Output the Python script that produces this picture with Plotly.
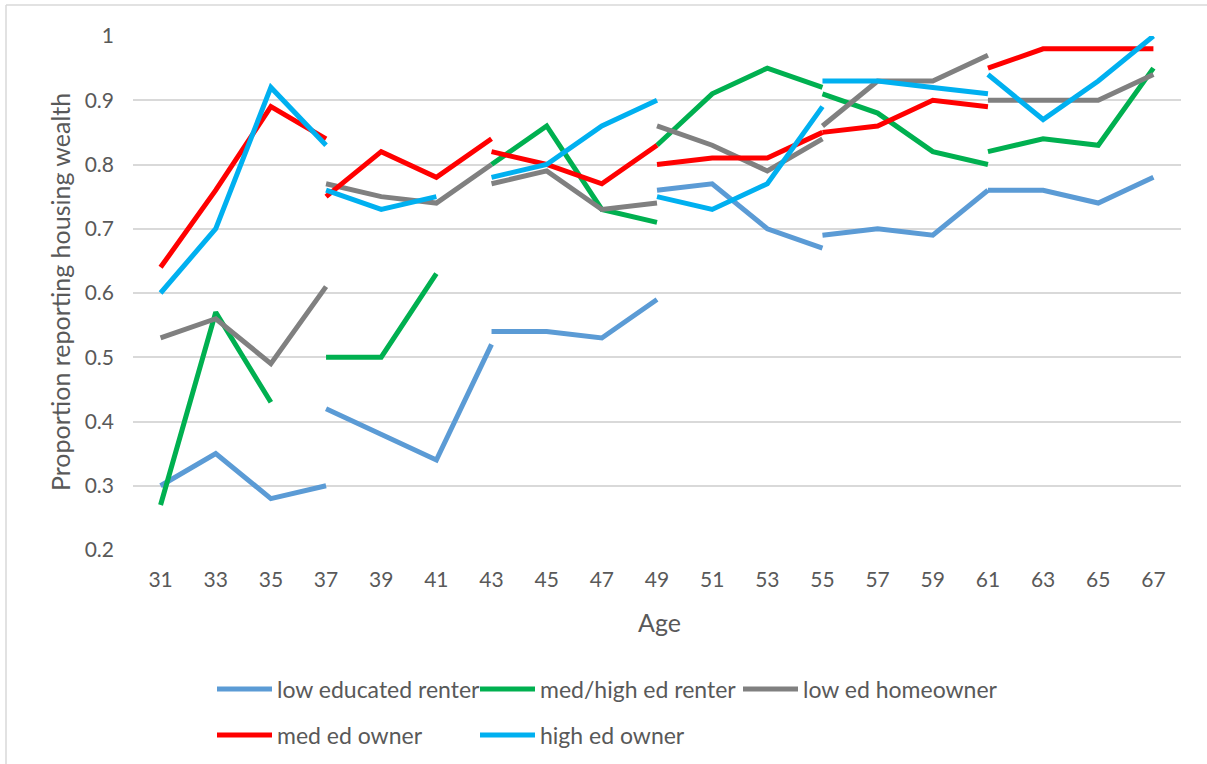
import plotly.graph_objects as go

# Ages on the x axis (category labels)
ages = [31, 33, 35, 37, 39, 41, 43, 45, 47, 49, 51, 53, 55, 57, 59, 61, 63, 65, 67]
# Each cohort is observed at 4 consecutive ages, starting at these ages
cohort_starts = [31, 37, 43, 49, 55, 61]
cohort_len = 4

series_names = ["low educated renter", "med/high ed renter", "low ed homeowner",
                "med ed owner", "high ed owner"]
series_colors = ["#5B9BD5", "#00B050", "#808080", "#FF0000", "#00B0F0"]

low_educated_renter = [
    [0.30, 0.35, 0.28, 0.30],
    [0.42, 0.38, 0.34, 0.52],
    [0.54, 0.54, 0.53, 0.59],
    [0.76, 0.77, 0.70, 0.67],
    [0.69, 0.70, 0.69, 0.76],
    [0.76, 0.76, 0.74, 0.78],
]
med_high_ed_renter = [
    [0.27, 0.57, 0.43, None],
    [0.50, 0.50, 0.63, None],
    [0.80, 0.86, 0.73, 0.71],
    [0.83, 0.91, 0.95, 0.92],
    [0.91, 0.88, 0.82, 0.80],
    [0.82, 0.84, 0.83, 0.95],
]
low_ed_homeowner = [
    [0.53, 0.56, 0.49, 0.61],
    [0.77, 0.75, 0.74, 0.80],
    [0.77, 0.79, 0.73, 0.74],
    [0.86, 0.83, 0.79, 0.84],
    [0.86, 0.93, 0.93, 0.97],
    [0.90, 0.90, 0.90, 0.94],
]
med_ed_owner = [
    [0.64, 0.76, 0.89, 0.84],
    [0.75, 0.82, 0.78, 0.84],
    [0.82, 0.80, 0.77, 0.83],
    [0.80, 0.81, 0.81, 0.85],
    [0.85, 0.86, 0.90, 0.89],
    [0.95, 0.98, 0.98, 0.98],
]
high_ed_owner = [
    [0.60, 0.70, 0.92, 0.83],
    [0.76, 0.73, 0.75, None],
    [0.78, 0.80, 0.86, 0.90],
    [0.75, 0.73, 0.77, 0.89],
    [0.93, 0.93, 0.92, 0.91],
    [0.94, 0.87, 0.93, 1.00],
]

y_ticks = [0.2, 0.3, 0.4, 0.5, 0.6, 0.7, 0.8, 0.9, 1.0]
y_tick_text = ["0.2", "0.3", "0.4", "0.5", "0.6", "0.7", "0.8", "0.9", "1"]

all_series = [low_educated_renter, med_high_ed_renter, low_ed_homeowner,
              med_ed_owner, high_ed_owner]

FONT = "Lato, Calibri, sans-serif"
TXT = "#595959"

fig = go.Figure()
for i, (name, color, data) in enumerate(zip(series_names, series_colors, all_series)):
    xs, ys = [], []
    for start, vals in zip(cohort_starts, data):
        i0 = ages.index(start)
        seg_ages = ages[i0:i0 + cohort_len]
        for a, v in zip(seg_ages, vals):
            xs.append(a)
            ys.append(v)
        xs.append(None)
        ys.append(None)
    fig.add_trace(go.Scatter(
        x=xs, y=ys, mode="lines", name=name,
        line=dict(color=color, width=5),
        connectgaps=False,
        legend="legend" if i < 3 else "legend2",
        hoverinfo="x+y+name",
    ))

W, H = 1207, 764
ml, mt = 133, 36
plot_right, plot_bottom = 1181, 550
mr, mb = W - plot_right, H - plot_bottom
pw = plot_right - ml
ph = plot_bottom - mt

def fx(p):  # page px -> paper x
    return (p - ml) / pw

def fy(p):  # page px -> paper y
    return (plot_bottom - p) / ph

def cy(p):  # page px -> container y
    return 1 - p / H

legend_common = dict(
    orientation="h", bgcolor="rgba(0,0,0,0)",
    font=dict(family=FONT, size=23, color=TXT),
    itemwidth=55, entrywidth=193, entrywidthmode="pixels",
    xanchor="left", yanchor="middle", yref="container", tracegroupgap=0,
    itemclick=False, itemdoubleclick=False,
)

fig.update_layout(
    width=W, height=H,
    margin=dict(l=ml, r=mr, t=mt, b=mb),
    paper_bgcolor="white", plot_bgcolor="white",
    font=dict(family=FONT, color=TXT),
    showlegend=True,
    legend=dict(x=fx(212), y=cy(689), **legend_common),
    legend2=dict(x=fx(212), y=cy(735), **legend_common),
    xaxis=dict(
        range=[30, 68], tickmode="array", tickvals=ages,
        ticktext=[str(a) for a in ages],
        showgrid=False, zeroline=False, showline=False,
        ticks="", ticklabelstandoff=15,
        tickfont=dict(family=FONT, size=21, color=TXT),
        fixedrange=True,
    ),
    yaxis=dict(
        range=[0.2, 1.0], tickmode="array", tickvals=y_ticks, ticktext=y_tick_text,
        showgrid=True, gridcolor="#D9D9D9", gridwidth=1.5,
        zeroline=False, showline=False, ticks="", ticklabelstandoff=18,
        tickfont=dict(family=FONT, size=21, color=TXT),
        fixedrange=True,
    ),
    annotations=[
        dict(text="Age", xref="paper", yref="paper", x=fx(659), y=fy(622),
             xanchor="center", yanchor="middle", showarrow=False,
             font=dict(family=FONT, size=25, color=TXT)),
        dict(text="Proportion reporting housing wealth", xref="paper", yref="paper",
             x=fx(60), y=fy(292), textangle=-90,
             xanchor="center", yanchor="middle", showarrow=False,
             font=dict(family=FONT, size=25, color=TXT)),
    ],
    shapes=[
        dict(type="line", xref="paper", yref="paper",
             x0=fx(6), x1=fx(6), y0=fy(H), y1=fy(5),
             line=dict(color="#D9D9D9", width=1.5)),
        dict(type="line", xref="paper", yref="paper",
             x0=fx(6), x1=fx(W), y0=fy(5), y1=fy(5),
             line=dict(color="#D9D9D9", width=1.5)),
    ],
)

# remove the default page margin so the figure sits at the window's top-left corner
fig.write_html("out.html",
               config={"displayModeBar": False},
               post_script="document.body.style.margin='0';document.body.style.overflow='hidden';")
